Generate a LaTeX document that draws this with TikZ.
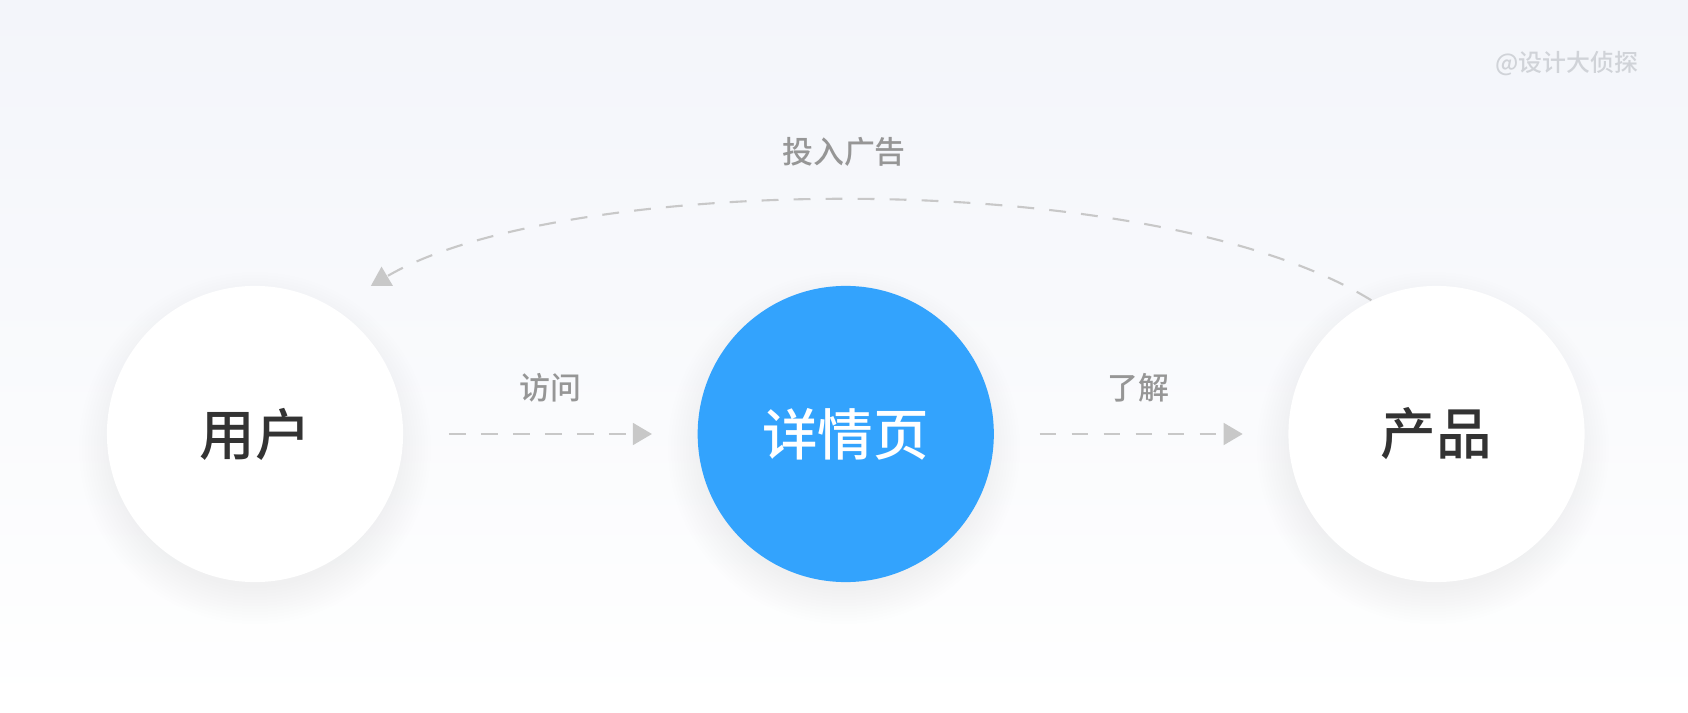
\documentclass[tikz,border=0pt]{standalone}
\usepackage{fontspec}
\setmainfont{Noto Sans CJK SC}
\newfontfamily\cjkmid{Noto Sans CJK SC}[UprightFont={* Medium}]
\usepackage{tikz}
\usetikzlibrary{arrows.meta,positioning}

\definecolor{bgtop}{RGB}{243,245,250}
\definecolor{detailblue}{RGB}{51,163,253}
\definecolor{shadowblue}{RGB}{60,90,150}
\definecolor{linegray}{RGB}{200,200,200}
\definecolor{labelgray}{RGB}{150,150,150}
\definecolor{markgray}{RGB}{208,211,216}
\definecolor{namegray}{RGB}{51,51,51}

\tikzset{
    ball/.style={circle, minimum size=2.96cm, inner sep=0pt,
        font=\fontsize{15.8}{15.8}\selectfont\cjkmid},
    flow/.style={draw=linegray, line width=0.6pt, dash pattern=on 4.8pt off 4.3pt,
        -{Triangle[length=5.4pt,width=6.2pt]}},
    tag/.style={text=labelgray, inner sep=0pt, font=\fontsize{8.8}{8.8}\selectfont\cjkmid}
}

\begin{document}
\begin{tikzpicture}[x=0.01cm,y=0.01cm]
        \useasboundingbox (0,0) rectangle (1688,712);
        \shade[top color=bgtop, bottom color=white] (0,0) rectangle (1688,712);
        % soft shadows under the circles
        \foreach \x in {255,1433}
            \foreach \r in {0,3,...,36}
                \fill[black, opacity=0.0045] (\x,264) circle (140+\r);
        \foreach \r in {0,3,...,36}
            \fill[shadowblue, opacity=0.0055] (844,264) circle (140+\r);
        % circles
        \node[ball, fill=white, text=namegray] (user) at (255,278) {用户};
        \node[ball, fill=detailblue, text=white, right=2.93cm of user] (detail) {详情页};
        \node[ball, fill=white, text=namegray, right=2.93cm of detail] (product) {产品};
        % connectors
        \draw[flow, shorten <=0.45cm, shorten >=0.45cm] (user) -- (detail);
        \draw[flow, shorten <=0.45cm, shorten >=0.45cm] (detail) -- (product);
        \draw[flow, shorten >=0.43cm] (product.116) .. controls (1150,548) and (560,538) .. (user.58);
        % labels
        \node[tag] (visit) at (550,324) {访问};
        \node[tag] (learn) at (1138,324) {了解};
        \node[tag] (advert) at (844,560) {投入广告};
        \node[text=markgray, font=\fontsize{6.8}{6.8}\selectfont\cjkmid] (mark) at (1567,648) {@设计大侦探};
    \end{tikzpicture}
\end{document}
